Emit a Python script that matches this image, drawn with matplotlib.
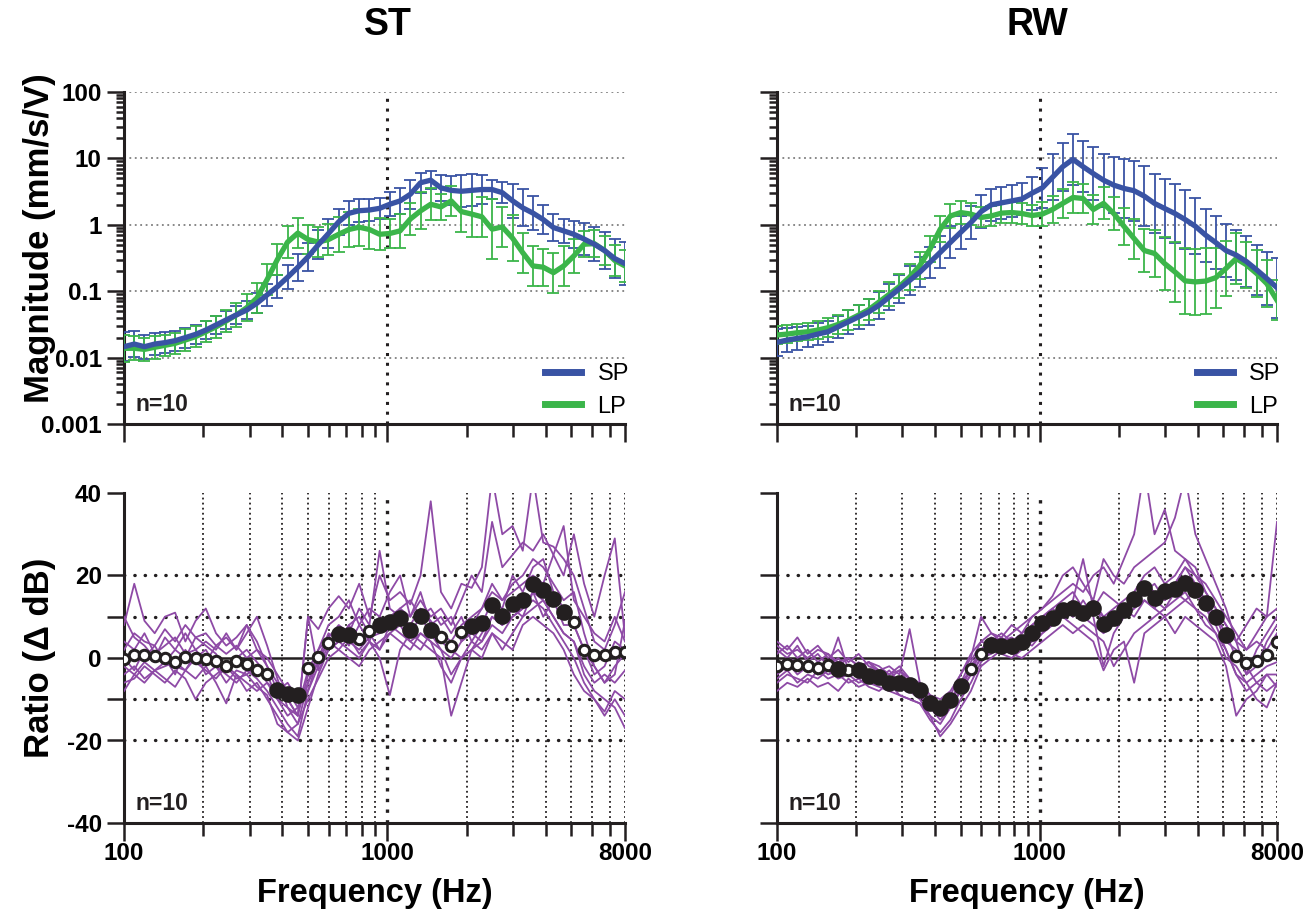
import matplotlib
matplotlib.use("Agg")
import matplotlib.pyplot as plt
import numpy as np
from matplotlib.ticker import FixedLocator, NullFormatter, FixedFormatter

plt.rcParams["font.family"] = ["Liberation Sans", "DejaVu Sans"]

# frequency points (Hz), 100 .. 8000
FREQ = [100, 109.4, 119.6, 130.8, 143.0, 156.4, 171.0, 187.0, 204.5, 223.6,
        244.6, 267.4, 292.5, 319.8, 349.7, 382.5, 418.2, 457.4, 500.2, 547.0,
        598.1, 654.1, 715.2, 782.2, 855.3, 935.3, 1022.8, 1118.5, 1223.1, 1337.6,
        1462.7, 1599.5, 1749.2, 1912.8, 2091.8, 2287.5, 2501.5, 2735.5, 2991.4, 3271.3,
        3577.3, 3912.0, 4278.0, 4678.2, 5115.9, 5594.4, 6117.8, 6690.1, 7316.0, 8000]

# magnitude (mm/s/V), mean values
ST_SP = [0.0146, 0.016, 0.0146, 0.016, 0.0168, 0.018, 0.020, 0.0224, 0.026, 0.031,
         0.037, 0.044, 0.052, 0.066, 0.088, 0.117, 0.162, 0.229, 0.33, 0.50,
         0.74, 1.11, 1.49, 1.63, 1.67, 1.77, 2.04, 2.29, 2.88, 4.3,
         4.7, 3.6, 3.3, 3.2, 3.3, 3.4, 3.4, 3.05, 2.3, 1.8,
         1.5, 1.2, 0.91, 0.81, 0.72, 0.61, 0.51, 0.41, 0.31, 0.26]
ST_LP = [0.0138, 0.0138, 0.0133, 0.0143, 0.0153, 0.0164, 0.0184, 0.0207, 0.0245, 0.029,
         0.0356, 0.044, 0.0565, 0.079, 0.15, 0.30, 0.55, 0.75, 0.60, 0.55,
         0.60, 0.72, 0.85, 0.92, 0.85, 0.72, 0.74, 0.81, 1.22, 1.62,
         2.04, 1.86, 2.29, 1.58, 1.45, 1.32, 0.86, 0.93, 0.63, 0.38,
         0.24, 0.23, 0.19, 0.24, 0.34, 0.51, 0.52, 0.41, 0.29, 0.24]
RW_SP = [0.017, 0.0184, 0.0195, 0.0206, 0.0226, 0.0245, 0.0291, 0.0346, 0.0411, 0.0488,
         0.0614, 0.0818, 0.109, 0.145, 0.194, 0.273, 0.385, 0.545, 0.77, 1.08,
         1.58, 2.0, 2.14, 2.29, 2.45, 3.0, 3.6, 5.2, 7.5, 9.7,
         7.5, 5.9, 4.7, 3.96, 3.53, 3.26, 2.7, 2.1, 1.76, 1.48,
         1.2, 0.95, 0.70, 0.54, 0.41, 0.35, 0.28, 0.21, 0.155, 0.113]
RW_LP = [0.0219, 0.0226, 0.0237, 0.0245, 0.026, 0.0282, 0.0316, 0.0366, 0.0437, 0.0528,
         0.0689, 0.0897, 0.118, 0.163, 0.244, 0.433, 0.86, 1.36, 1.53, 1.45,
         1.29, 1.36, 1.50, 1.53, 1.48, 1.38, 1.45, 1.70, 2.10, 2.58,
         2.49, 1.70, 2.10, 1.48, 0.95, 0.62, 0.41, 0.37, 0.26, 0.195,
         0.143, 0.138, 0.142, 0.16, 0.22, 0.31, 0.25, 0.185, 0.13, 0.073]

# error bar half-widths, in decades (log10 units)
ST_SP_ERR = [0.22, 0.2, 0.18, 0.17, 0.16, 0.15, 0.15, 0.14, 0.14, 0.14,
             0.14, 0.14, 0.14, 0.15, 0.16, 0.17, 0.18, 0.2, 0.21, 0.22,
             0.22, 0.2, 0.18, 0.17, 0.16, 0.16, 0.18, 0.2, 0.22, 0.15,
             0.14, 0.2, 0.22, 0.24, 0.24, 0.22, 0.14, 0.16, 0.26, 0.28,
             0.26, 0.22, 0.2, 0.18, 0.2, 0.24, 0.26, 0.28, 0.3, 0.32]
ST_LP_ERR = [0.2, 0.18, 0.17, 0.17, 0.16, 0.16, 0.16, 0.16, 0.16, 0.17,
             0.17, 0.18, 0.2, 0.22, 0.24, 0.24, 0.24, 0.22, 0.22, 0.22,
             0.24, 0.26, 0.26, 0.28, 0.3, 0.24, 0.22, 0.26, 0.24, 0.28,
             0.24, 0.2, 0.22, 0.3, 0.35, 0.3, 0.45, 0.3, 0.35, 0.3,
             0.3, 0.28, 0.3, 0.3, 0.26, 0.2, 0.2, 0.22, 0.24, 0.24]
RW_SP_ERR = [0.2, 0.18, 0.17, 0.16, 0.16, 0.16, 0.17, 0.18, 0.18, 0.19,
             0.2, 0.2, 0.21, 0.22, 0.22, 0.23, 0.24, 0.24, 0.25, 0.25,
             0.25, 0.24, 0.24, 0.24, 0.24, 0.25, 0.3, 0.35, 0.36, 0.38,
             0.38, 0.4, 0.4, 0.42, 0.45, 0.45, 0.45, 0.45, 0.45, 0.45,
             0.45, 0.42, 0.4, 0.4, 0.4, 0.38, 0.38, 0.38, 0.4, 0.45]
RW_LP_ERR = [0.13, 0.13, 0.13, 0.13, 0.13, 0.14, 0.14, 0.15, 0.15, 0.16,
             0.17, 0.18, 0.18, 0.19, 0.2, 0.2, 0.2, 0.18, 0.18, 0.16,
             0.15, 0.15, 0.15, 0.16, 0.16, 0.16, 0.18, 0.2, 0.22, 0.24,
             0.22, 0.22, 0.24, 0.25, 0.28, 0.3, 0.32, 0.35, 0.4, 0.45,
             0.5, 0.5, 0.5, 0.45, 0.42, 0.38, 0.35, 0.35, 0.35, 0.3]

# ratio (dB), mean over animals; SIG = 1 where the point is drawn filled
ST_RATIO = [-0.2, 0.8, 0.65, 0.5, 0, -1.0, 0.25, 0, -0.15, -0.8,
            -2.0, -0.8, -1.5, -2.8, -4.0, -7.7, -8.8, -9.0, -2.4, 0.25,
            3.6, 5.7, 5.5, 4.7, 6.5, 8.0, 8.8, 9.6, 6.8, 10.2,
            6.8, 5.0, 2.8, 6.2, 7.8, 8.4, 12.8, 10.2, 13.0, 14.0,
            18.0, 16.4, 14.4, 11.2, 8.8, 2.0, 0.8, 0.8, 1.4, 1.4]
ST_SIG = [0, 0, 0, 0, 0, 0, 0, 0, 0, 0,
          0, 0, 0, 0, 0, 1, 1, 1, 0, 0,
          0, 1, 1, 0, 0, 1, 1, 1, 1, 1,
          1, 0, 0, 0, 1, 1, 1, 1, 1, 1,
          1, 1, 1, 1, 0, 0, 0, 0, 0, 0]
RW_RATIO = [-2.0, -1.4, -1.6, -1.9, -2.4, -1.8, -2.6, -2.8, -3.0, -4.4,
            -4.7, -6.0, -6.1, -6.5, -7.8, -10.8, -12.2, -10.3, -6.9, -2.7,
            0.9, 3.2, 2.9, 2.8, 3.9, 6.0, 8.4, 9.6, 11.6, 12.0,
            10.8, 12.0, 8.2, 9.6, 11.6, 14.2, 17.0, 14.6, 16.2, 16.8,
            18.2, 16.4, 13.4, 10.0, 5.6, 0.6, -1.2, -0.8, 0.8, 3.8]
RW_SIG = [0, 0, 0, 0, 0, 0, 1, 0, 1, 1,
          1, 1, 1, 1, 1, 1, 1, 1, 1, 0,
          0, 1, 1, 1, 1, 1, 1, 1, 1, 1,
          1, 1, 1, 1, 1, 1, 1, 1, 1, 1,
          1, 1, 1, 1, 1, 0, 0, 0, 0, 0]

# individual animals (dB)
ST_ANIMALS = [
    [8, 18, 9, 6, 10, 11, 4, 9, 12, 6, 3, 5, 8, 2, -2, -6, -10, -14, 10, 7,
     12, 15, 12, 18, 10, 20, 14, 16, 13, 20, 38, 16, 12, 18, 17, 22, 44, 30, 32, 26,
     44, 28, 27, 24, 20, 12, 4, 2, 8, 16],
    [2, 6, 4, 3, 7, 4, 8, 5, 6, 3, 5, 2, 6, 10, 3, -5, -12, -16, -6, 2,
     8, 10, 14, 8, 12, 10, 16, 20, 10, 14, 10, 12, 8, 14, 20, 16, 33, 22, 25, 28,
     26, 30, 25, 20, 30, 18, 10, 20, 29, 5],
    [-2, 1, 0, 3, -1, 2, 0, 5, 3, 1, -3, 0, 2, -1, -4, -10, -14, -12, -3, 2,
     5, 8, 6, 12, 8, 26, 12, 10, 8, 12, 9, 6, 4, 8, 10, 12, 16, 14, 18, 20,
     24, 22, 18, 14, 16, 6, -2, -6, -4, 9],
    [-4, -2, -5, -3, -1, -2, -3, 0, 2, -2, -4, -6, -3, -5, -8, -12, -16, -19, -8, -2,
     3, 6, 4, 2, 5, 6, 8, 12, 6, 10, 6, 2, 0, 4, 6, 4, 10, 8, 12, 10,
     16, 14, 10, 6, 4, -4, -8, -10, -12, -17],
    [0, -3, 2, -1, 0, -4, 2, -1, -3, -5, -2, -4, -8, -6, -10, -14, -18, -20, -12, -4,
     2, 4, 8, 4, 6, 2, 6, 4, 2, 6, 4, -2, -6, 0, 2, 4, 8, 6, 10, 12,
     14, 12, 8, 4, 0, -6, -10, -13, -8, -10],
    [-8, -4, -6, -3, -5, -7, -3, -5, -2, -6, -11, -4, -6, -8, -6, -10, -12, -14, -4, 0,
     4, 2, 5, 1, 4, 0, -9, 2, 6, 4, 2, 0, -14, -6, 2, 0, 6, 2, 6, 10,
     12, 14, 10, 6, 4, -2, -6, -4, -6, -3],
    [4, 2, 6, 1, 3, 5, 1, 2, -1, 3, 1, 3, 0, 2, 0, -4, -8, -12, -6, -1,
     4, 6, 3, 8, 4, 10, 8, 12, 10, 16, 8, 10, 6, 10, 4, 8, 14, 12, 20, 16,
     22, 24, 16, 12, 8, 2, -4, -2, 4, 2],
    [-6, -5, -2, -4, -6, -3, -5, -10, -6, -4, -2, -5, -4, -7, -9, -16, -18, -16, -10, -5,
     0, 2, 0, -2, 2, 4, 6, 8, 4, 6, 4, 2, -4, 0, 4, 2, 6, 4, 2, 8,
     10, 8, 6, 2, -4, -8, -10, -14, -10, -14],
    [10, 5, 3, 0, 5, 2, 6, 2, 4, 2, 6, 2, 8, 4, -2, -8, -6, -10, -8, 0,
     6, 4, 8, 10, 6, 8, 10, 12, 14, 10, 12, 8, 10, 4, 8, 12, 18, 14, 16, 18,
     20, 18, 25, 32, 14, 10, 6, 4, 10, 4],
    [-2, -4, -1, -3, -2, -1, -3, 1, -4, -2, -6, -3, -4, -2, -6, -8, -10, -14, 10, -3,
     2, 4, 2, 0, 4, 2, 8, 6, 4, 2, 6, 4, 2, 0, 2, 6, 10, 8, 10, 12,
     16, 10, 14, 8, 8, 2, -2, -6, -2, 1],
]
RW_ANIMALS = [
    [4, 2, 5, 1, 3, 0, 2, -1, 1, -2, -3, -4, -2, -5, -6, -9, -10, -8, -4, 1,
     4, 6, 5, 8, 6, 10, 12, 14, 16, 18, 16, 20, 22, 18, 24, 30, 46, 30, 36, 26,
     24, 20, 16, 12, 8, 4, 2, 6, 10, 33],
    [2, 0, 3, -1, 1, -2, 0, -3, -1, -4, -5, -3, -6, -7, -9, -12, -15, -12, -8, -2,
     2, 5, 4, 6, 8, 10, 12, 15, 20, 22, 18, 14, 24, 20, 18, 22, 24, 26, 28, 34,
     44, 30, 24, 18, 12, 4, -4, 2, 6, 10],
    [-3, -1, -4, -2, -4, -1, -3, -2, -5, -4, -5, -7, -6, -8, -10, -14, -16, -12, -8, -4,
     0, 2, 3, 1, 4, 6, 8, 10, 12, 14, 24, 12, 10, 8, 10, 14, 16, 18, 14, 16,
     20, 18, 12, 8, 2, -4, -8, -6, -4, -7],
    [-6, -4, -5, -6, -3, -5, -4, -6, -5, -7, -8, -6, -9, -10, -11, -15, -18, -15, -10, -6,
     -1, 2, 1, 0, 2, 4, 6, 8, 10, 8, 6, 4, -3, 2, 4, -6, 6, 8, 10, 6,
     10, 8, 6, 4, -2, -14, -10, -8, -4, -4],
    [1, 3, 0, 2, -1, 1, -2, 0, -2, -1, -3, -2, -4, 7, -6, -9, -12, -9, -4, 0,
     10, 6, 4, 5, 3, 8, 10, 8, 12, 10, 12, 14, 8, 10, 12, 10, 14, 12, 16, 18,
     22, 18, 14, 10, 4, 2, -4, -2, 4, 8],
    [-8, -6, -7, -5, -7, -6, -8, -5, -7, -6, -7, -8, -9, -10, -11, -14, -19, -16, -12, -8,
     -2, 0, 2, 1, 0, 2, 4, 6, 8, 6, 8, 6, 4, -2, 2, 6, 8, 10, 12, 14,
     16, 12, 10, 6, 0, -2, -6, -10, -12, -6],
    [-4, -2, -3, -1, -4, -2, 5, -3, -2, -1, -4, -5, -3, -5, -7, -10, -12, -10, -6, -3,
     2, 4, 6, 4, 6, 8, 10, 12, 10, 14, 10, 12, 16, 14, 12, 14, 18, 16, 14, 18,
     22, 20, 18, 14, 10, 6, 2, 4, 2, 6],
    [-2, 0, -1, -3, -2, -4, -3, -4, -3, -5, -6, -5, -7, -8, -7, -11, -13, -10, -7, -3,
     1, 3, 2, 4, 3, 5, 7, 9, 12, 10, 14, 10, -2, 6, 10, 12, 16, 14, 12, 16,
     14, 16, 12, 10, 6, 0, -2, -6, -8, -6],
    [3, 1, 2, 0, 2, 1, -1, 0, -2, -1, -2, -4, -3, -6, -8, -10, -12, -11, -6, -1,
     4, 3, 5, 3, 5, 6, 10, 12, 14, 16, 12, 14, 10, 12, 14, 16, 20, 22, 18, 20,
     24, 22, 16, 12, 8, 4, 8, 12, 10, 12],
    [-5, -3, -6, -4, -5, -3, -5, -4, -6, -5, -6, -7, -5, -8, -9, -12, -14, -11, -8, -4,
     0, 1, 3, 2, 4, 3, 6, 8, 10, 12, 10, 8, 6, 8, 10, 12, 14, 12, 10, 12,
     14, 12, 8, 6, 2, -4, -6, -4, -2, -1],
]

BLUE = "#3953a4"
GREEN = "#3bb54a"
PURPLE = "#8e4aa6"
INK = "#231f20"

X_MAJOR = [100, 1000, 8000]
X_MINOR = [200, 300, 400, 500, 600, 700, 800, 900, 2000, 3000, 4000, 5000, 6000, 7000]


def style_axis(ax, show_xlabels):
    for side in ["top", "right"]:
        ax.spines[side].set_visible(False)
    for side in ["left", "bottom"]:
        ax.spines[side].set_linewidth(2.2)
        ax.spines[side].set_color(INK)
    ax.set_xscale("log")
    ax.set_xlim(100, 8000)
    ax.xaxis.set_major_locator(FixedLocator(X_MAJOR))
    ax.xaxis.set_minor_locator(FixedLocator(X_MINOR))
    ax.xaxis.set_minor_formatter(NullFormatter())
    if show_xlabels:
        ax.xaxis.set_major_formatter(FixedFormatter(["100", "1000", "8000"]))
    else:
        ax.xaxis.set_major_formatter(NullFormatter())
    ax.tick_params(axis="both", which="major", length=12, width=1.8, color=INK,
                   labelsize=17.5, pad=4)
    ax.tick_params(axis="x", which="major", length=13, pad=1)
    ax.tick_params(axis="both", which="minor", length=9, width=1.8, color=INK)
    ax.tick_params(axis="y", which="minor", length=6)


def draw_magnitude(ax, sp, sp_err, lp, lp_err, show_ylabels):
    freq = np.array(FREQ)
    for vals, err, color in [(sp, sp_err, BLUE), (lp, lp_err, GREEN)]:
        v = np.array(vals)
        e = np.array(err)
        lo = v - v / 10 ** e
        hi = v * 10 ** e - v
        ax.errorbar(freq, v, yerr=[lo, hi], fmt="none", ecolor=color, elinewidth=1.3,
                    capsize=4, capthick=1.3, zorder=3)
    ax.plot(freq, lp, color=GREEN, lw=3.8, solid_joinstyle="round", zorder=4, label="LP")
    ax.plot(freq, sp, color=BLUE, lw=3.8, solid_joinstyle="round", zorder=5, label="SP")

    ax.set_yscale("log")
    ax.set_ylim(0.001, 100)
    for level in [0.01, 0.1, 1, 10, 100]:
        ax.axhline(level, color="#7f7f7f", lw=1.3, ls=(0, (1, 2)), zorder=1)
    ax.axvline(1000, color=INK, lw=2.2, ls=(0, (1, 2.2)), zorder=1)

    style_axis(ax, show_xlabels=False)
    ax.yaxis.set_major_locator(FixedLocator([0.001, 0.01, 0.1, 1, 10, 100]))
    minors = [m * 10.0 ** k for k in range(-3, 2) for m in range(2, 10)]
    ax.yaxis.set_minor_locator(FixedLocator(minors))
    ax.yaxis.set_minor_formatter(NullFormatter())
    if show_ylabels:
        ax.yaxis.set_major_formatter(FixedFormatter(["0.001", "0.01", "0.1", "1", "10", "100"]))
    else:
        ax.yaxis.set_major_formatter(NullFormatter())
    for lab in ax.get_yticklabels():
        lab.set_fontweight("bold")

    handles, labels = ax.get_legend_handles_labels()
    leg = ax.legend(handles[::-1], labels[::-1], loc="lower right", bbox_to_anchor=(1.05, -0.045),
                    frameon=False, fontsize=17, handlelength=1.5, handletextpad=0.7,
                    labelspacing=0.45)
    for line in leg.get_lines():
        line.set_linewidth(5)
    ax.text(0.022, 0.06, "n=10", transform=ax.transAxes, fontsize=16.5, fontweight="bold",
            color=INK, va="center", ha="left")


def draw_ratio(ax, animals, mean, sig, show_ylabels):
    freq = np.array(FREQ)
    for row in animals:
        ax.plot(freq, row, color=PURPLE, lw=1.3, zorder=3)
    mean = np.array(mean)
    sig = np.array(sig, dtype=bool)
    ax.plot(freq[~sig], mean[~sig], "o", ms=7.5, mfc="white", mec=INK, mew=2.2, zorder=5)
    ax.plot(freq[sig], mean[sig], "o", ms=12, mfc=INK, mec=INK, mew=0, zorder=6)

    ax.set_ylim(-40, 40)
    for level in [-20, -10, 10, 20]:
        ax.axhline(level, color=INK, lw=2.4, ls=(0, (0.1, 3.0)), dash_capstyle="round", zorder=1)
    ax.axhline(0, color=INK, lw=1.8, zorder=2)
    for f in X_MINOR + [8000]:
        ax.axvline(f, color=INK, lw=1.3, ls=(0, (1, 1.8)), zorder=1)
    ax.axvline(1000, color=INK, lw=2.4, ls=(0, (1, 2.2)), zorder=1)

    style_axis(ax, show_xlabels=True)
    ax.yaxis.set_major_locator(FixedLocator([-40, -20, -10, 0, 10, 20, 40]))
    if show_ylabels:
        ax.yaxis.set_major_formatter(FixedFormatter(["-40", "-20", "", "0", "", "20", "40"]))
    else:
        ax.yaxis.set_major_formatter(NullFormatter())
    for lab in ax.get_yticklabels() + ax.get_xticklabels():
        lab.set_fontweight("bold")
    ax.set_xlabel("Frequency (Hz)", fontsize=23.5, fontweight="bold", labelpad=9)
    ax.text(0.022, 0.06, "n=10", transform=ax.transAxes, fontsize=16.5, fontweight="bold",
            color=INK, va="center", ha="left")


def main():
    fig = plt.figure(figsize=(13.06, 9.13), dpi=100)
    W, H = 1306, 913
    ax_tl = fig.add_axes([124 / W, 1 - 424 / H, 501 / W, 332 / H])
    ax_tr = fig.add_axes([777 / W, 1 - 424 / H, 500 / W, 332 / H])
    ax_bl = fig.add_axes([124 / W, 1 - 823 / H, 501 / W, 330 / H])
    ax_br = fig.add_axes([777 / W, 1 - 823 / H, 500 / W, 330 / H])

    draw_magnitude(ax_tl, ST_SP, ST_SP_ERR, ST_LP, ST_LP_ERR, show_ylabels=True)
    draw_magnitude(ax_tr, RW_SP, RW_SP_ERR, RW_LP, RW_LP_ERR, show_ylabels=False)
    draw_ratio(ax_bl, ST_ANIMALS, ST_RATIO, ST_SIG, show_ylabels=True)
    draw_ratio(ax_br, RW_ANIMALS, RW_RATIO, RW_SIG, show_ylabels=False)

    ax_tl.set_ylabel("Magnitude (mm/s/V)", fontsize=25, fontweight="bold")
    ax_bl.set_ylabel("Ratio (Δ dB)", fontsize=25, fontweight="bold")
    ax_tl.yaxis.set_label_coords(-0.135, 0.56)
    ax_bl.yaxis.set_label_coords(-0.135, 0.5)

    fig.text(388 / W, 1 - 25 / H, "ST", fontsize=27, fontweight="bold", ha="center", va="center")
    fig.text(1037 / W, 1 - 25 / H, "RW", fontsize=27, fontweight="bold", ha="center", va="center")

    fig.savefig("out.png", dpi=100)


if __name__ == "__main__":
    main()
